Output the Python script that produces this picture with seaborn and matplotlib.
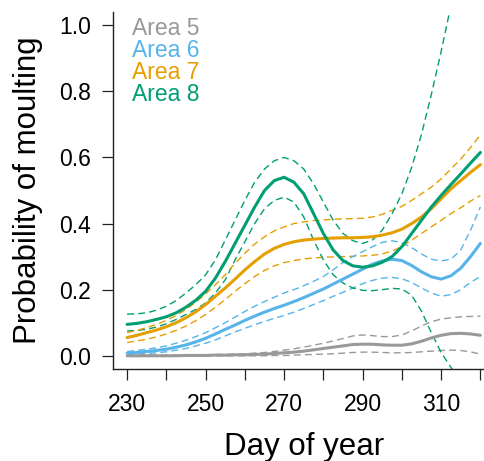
import numpy as np
import pandas as pd
import matplotlib
matplotlib.use("Agg")
import matplotlib.pyplot as plt
import seaborn as sns

# ====== Data (every 2.5 days) ======
day = [230, 232.5, 235, 237.5, 240, 242.5, 245, 247.5, 250, 252.5,
       255, 257.5, 260, 262.5, 265, 267.5, 270, 272.5, 275, 277.5,
       280, 282.5, 285, 287.5, 290, 292.5, 295, 297.5, 300, 302.5,
       305, 307.5, 310, 312.5, 315, 317.5, 320]

area5_fit = [0.0, 0.0, 0.0, 0.0, 0.0, 0.0, 0.001, 0.001, 0.001, 0.002,
             0.002, 0.003, 0.003, 0.004, 0.005, 0.007, 0.009, 0.011, 0.014, 0.018,
             0.022, 0.026, 0.03, 0.034, 0.035, 0.035, 0.033, 0.032, 0.032, 0.036,
             0.044, 0.054, 0.062, 0.067, 0.068, 0.066, 0.062]
area5_lo = [0.0, 0.0, 0.0, 0.0, 0.0, 0.0, 0.0, 0.0, 0.0, 0.0,
            0.0, 0.0, 0.0, 0.0, 0.0, 0.001, 0.001, 0.002, 0.003, 0.004,
            0.005, 0.006, 0.008, 0.01, 0.011, 0.011, 0.01, 0.009, 0.009, 0.01,
            0.012, 0.014, 0.016, 0.017, 0.016, 0.012, 0.005]
area5_hi = [0.002, 0.002, 0.002, 0.002, 0.002, 0.002, 0.003, 0.003, 0.003, 0.004,
            0.004, 0.005, 0.006, 0.008, 0.01, 0.013, 0.017, 0.021, 0.026, 0.032,
            0.038, 0.045, 0.052, 0.06, 0.063, 0.061, 0.058, 0.058, 0.063, 0.075,
            0.09, 0.103, 0.111, 0.115, 0.118, 0.119, 0.12]

area6_fit = [0.008, 0.01, 0.013, 0.016, 0.02, 0.026, 0.033, 0.042, 0.053, 0.066,
             0.08, 0.093, 0.107, 0.12, 0.132, 0.143, 0.153, 0.164, 0.176, 0.189,
             0.202, 0.217, 0.232, 0.247, 0.262, 0.277, 0.287, 0.292, 0.288, 0.273,
             0.254, 0.239, 0.232, 0.242, 0.265, 0.3, 0.34]
area6_lo = [0.003, 0.005, 0.007, 0.009, 0.012, 0.017, 0.022, 0.03, 0.038, 0.048,
            0.06, 0.072, 0.083, 0.094, 0.104, 0.113, 0.122, 0.132, 0.143, 0.155,
            0.167, 0.18, 0.192, 0.205, 0.218, 0.228, 0.235, 0.237, 0.233, 0.222,
            0.205, 0.19, 0.18, 0.185, 0.2, 0.222, 0.24]
area6_hi = [0.013, 0.016, 0.02, 0.024, 0.03, 0.038, 0.047, 0.058, 0.07, 0.085,
            0.1, 0.117, 0.134, 0.15, 0.164, 0.177, 0.19, 0.2, 0.212, 0.225,
            0.24, 0.26, 0.282, 0.3, 0.315, 0.33, 0.343, 0.348, 0.342, 0.327,
            0.308, 0.292, 0.287, 0.292, 0.32, 0.38, 0.45]

area7_fit = [0.055, 0.062, 0.07, 0.078, 0.088, 0.1, 0.115, 0.133, 0.155, 0.18,
             0.205, 0.232, 0.26, 0.285, 0.308, 0.325, 0.337, 0.345, 0.35, 0.353,
             0.355, 0.356, 0.357, 0.357, 0.358, 0.36, 0.365, 0.372, 0.383, 0.4,
             0.42, 0.445, 0.475, 0.505, 0.53, 0.555, 0.578]
area7_lo = [0.04, 0.045, 0.05, 0.057, 0.066, 0.077, 0.09, 0.106, 0.125, 0.147,
            0.17, 0.195, 0.218, 0.24, 0.258, 0.272, 0.282, 0.288, 0.293, 0.296,
            0.298, 0.299, 0.3, 0.301, 0.302, 0.304, 0.308, 0.317, 0.33, 0.35,
            0.37, 0.39, 0.41, 0.43, 0.448, 0.468, 0.485]
area7_hi = [0.07, 0.077, 0.085, 0.095, 0.107, 0.122, 0.14, 0.162, 0.187, 0.215,
            0.245, 0.28, 0.31, 0.338, 0.36, 0.378, 0.39, 0.4, 0.405, 0.409,
            0.411, 0.413, 0.414, 0.415, 0.416, 0.42, 0.428, 0.44, 0.452, 0.47,
            0.49, 0.51, 0.535, 0.565, 0.595, 0.63, 0.668]

area8_fit = [0.095, 0.098, 0.103, 0.11, 0.118, 0.13, 0.147, 0.168, 0.195, 0.235,
             0.285, 0.34, 0.395, 0.45, 0.5, 0.53, 0.54, 0.525, 0.49, 0.43,
             0.37, 0.32, 0.288, 0.272, 0.268, 0.272, 0.283, 0.3, 0.33, 0.37,
             0.41, 0.45, 0.485, 0.518, 0.55, 0.583, 0.615]
area8_lo = [0.075, 0.077, 0.08, 0.087, 0.097, 0.11, 0.125, 0.14, 0.16, 0.19,
            0.23, 0.29, 0.345, 0.4, 0.445, 0.47, 0.48, 0.465, 0.42, 0.35,
            0.29, 0.245, 0.22, 0.205, 0.198, 0.197, 0.2, 0.204, 0.202, 0.183,
            0.135, 0.07, 0.01, -0.035, -0.08, -0.14, -0.2]
area8_hi = [0.126, 0.127, 0.13, 0.138, 0.15, 0.167, 0.19, 0.215, 0.245, 0.29,
            0.35, 0.41, 0.47, 0.525, 0.565, 0.59, 0.6, 0.59, 0.565, 0.52,
            0.465, 0.41, 0.37, 0.348, 0.34, 0.35, 0.38, 0.43, 0.49, 0.57,
            0.67, 0.79, 0.92, 1.06, 1.2, 1.36, 1.52]

areas = ["Area 5", "Area 6", "Area 7", "Area 8"]
colors = ["#999999", "#56B4E9", "#E69F00", "#009E73"]

fits = [area5_fit, area6_fit, area7_fit, area8_fit]
lows = [area5_lo, area6_lo, area7_lo, area8_lo]
highs = [area5_hi, area6_hi, area7_hi, area8_hi]

frames = []
for name, f, lo, hi in zip(areas, fits, lows, highs):
    frames.append(pd.DataFrame({"day": day, "area": name, "fit": f, "lower": lo, "upper": hi}))
df = pd.concat(frames, ignore_index=True)
palette = dict(zip(areas, colors))

# ====== Style ======
sns.set_style("ticks")
plt.rcParams["font.family"] = ["Liberation Sans", "DejaVu Sans"]
plt.rcParams["text.color"] = "black"
plt.rcParams["axes.labelcolor"] = "black"

fig = plt.figure(figsize=(4.84, 4.61), dpi=100)
ax = fig.add_axes([113 / 484, 92 / 461, 381.5 / 484, 357 / 461])

# ====== Confidence bands (dashed) ======
for col in ["lower", "upper"]:
    sns.lineplot(data=df, x="day", y=col, hue="area", hue_order=areas, palette=palette,
                 ax=ax, legend=False, lw=1.0, linestyle=(0, (5, 3)))

# ====== Fitted curves ======
sns.lineplot(data=df, x="day", y="fit", hue="area", hue_order=areas, palette=palette,
             ax=ax, lw=2.2)

# ====== Axes ======
ax.set_xlim(226.4, 323.6)
ax.set_ylim(-0.04, 1.04)
ax.set_xticks([230, 250, 270, 290, 310])
ax.set_xticks([240, 260, 280, 300, 320], minor=True)
ax.set_yticks([0.0, 0.2, 0.4, 0.6, 0.8, 1.0])
ax.set_yticklabels(["0.0", "0.2", "0.4", "0.6", "0.8", "1.0"])
ax.tick_params(which="both", direction="out", length=8, width=0.9, color="#222222",
               labelsize=16.5, labelcolor="black")
ax.tick_params(axis="x", pad=9.5)
ax.tick_params(axis="y", pad=8)
for s in ["top", "right"]:
    ax.spines[s].set_visible(False)
for s in ["left", "bottom"]:
    ax.spines[s].set_linewidth(1.0)
    ax.spines[s].set_color("#222222")

ax.set_xlabel("Day of year", fontsize=22.5)
ax.set_ylabel("Probability of moulting", fontsize=22.5)
ax.xaxis.set_label_coords(0.5, -0.177)
ax.yaxis.set_label_coords(-0.183, 0.5)

leg = ax.legend(loc="upper left", bbox_to_anchor=(0.05, 0.986), frameon=False,
                handlelength=0, handletextpad=0, labelspacing=-0.04, borderpad=0,
                borderaxespad=0, fontsize=16.5, labelcolor="linecolor")
for h in leg.legend_handles:
    h.set_visible(False)

fig.savefig("out.png", dpi=100)
